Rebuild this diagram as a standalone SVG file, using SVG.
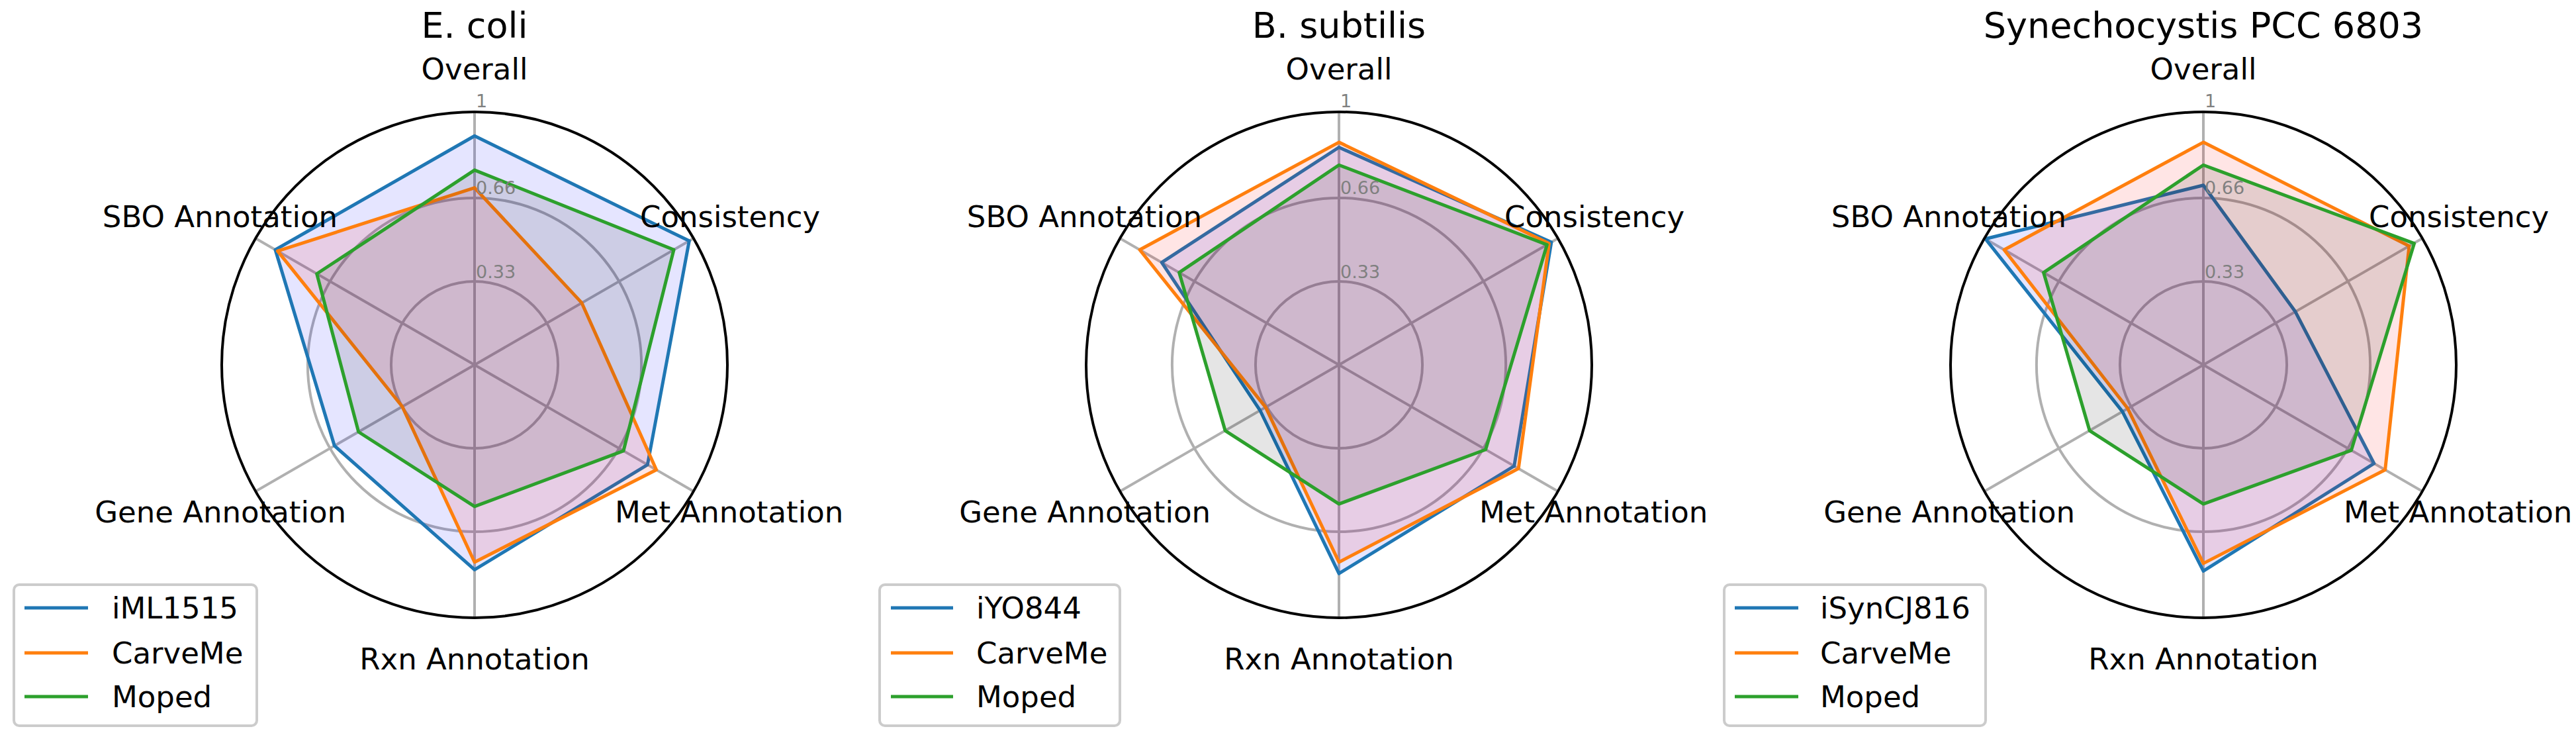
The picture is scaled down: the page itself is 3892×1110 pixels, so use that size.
<svg xmlns="http://www.w3.org/2000/svg" xmlns:xlink="http://www.w3.org/1999/xlink" width="3892" height="1110" viewBox="0 0 3892 1110">
<style>
text{font-family:"DejaVu Sans",sans-serif;fill:#000}
.t{font-size:54px;text-anchor:middle}
.l{font-size:45px}
.k{font-size:27px;fill:#808080}
.g{fill:none;stroke:#b0b0b0;stroke-width:4;vector-effect:non-scaling-stroke}
.o{fill:none;stroke:#000;stroke-width:4;vector-effect:non-scaling-stroke}
.b,.r,.m{stroke-width:5;stroke-linejoin:round;vector-effect:non-scaling-stroke}
.b{stroke:#1f77b4;fill:rgba(0,0,255,0.1)}
.r{stroke:#ff7f0e;fill:rgba(255,0,0,0.1)}
.m{stroke:#2ca02c;fill:rgba(0,0,0,0.1)}
.lg{fill:#fff;fill-opacity:0.8;stroke:#ccc;stroke-width:4}
</style>
<defs>
<g id="grid">
<path class="g" d="M0 0V-1M0 0L.866 -.5M0 0L.866 .5M0 0V1M0 0L-.866 .5M0 0L-.866 -.5"/>
<circle class="g" r="0.33"/>
<circle class="g" r="0.66"/>
</g>
</defs>
<g id="panel1">
<g transform="translate(717,551) scale(382)">
<use xlink:href="#grid"/>
<polygon class="b" points="0,-.905 .849,-.49 .684,.395 0,.81 -.554,.32 -.788,-.455"/>
<polygon class="r" points="0,-.70 .424,-.245 .719,.415 0,.78 -.286,.165 -.779,-.45"/>
<polygon class="m" points="0,-.77 .788,-.455 .589,.34 0,.56 -.459,.265 -.624,-.36"/>
<circle class="o" r="1"/>
</g>
<text class="t" x="717" y="57">E. coli</text>
<text class="l" x="717" y="120" text-anchor="middle">Overall</text>
<text class="l" x="967" y="343">Consistency</text>
<text class="l" x="929" y="789">Met Annotation</text>
<text class="l" x="717" y="1011" text-anchor="middle">Rxn Annotation</text>
<text class="l" x="523" y="789" text-anchor="end">Gene Annotation</text>
<text class="l" x="510" y="343" text-anchor="end">SBO Annotation</text>
<text class="k" x="719" y="162">1</text><text class="k" x="719" y="293">0.66</text><text class="k" x="719" y="420">0.33</text>
<rect class="lg" x="21" y="883" width="367" height="213" rx="8"/>
<path d="M37 918H133" stroke="#1f77b4" stroke-width="5"/><path d="M37 986H133" stroke="#ff7f0e" stroke-width="5"/><path d="M37 1052H133" stroke="#2ca02c" stroke-width="5"/>
<text class="l" x="169" y="934">iML1515</text><text class="l" x="169" y="1002">CarveMe</text><text class="l" x="169" y="1068">Moped</text>
</g>
<g id="panel2">
<g transform="translate(2023,551) scale(382)">
<use xlink:href="#grid"/>
<polygon class="b" points="0,-.86 .840,-.485 .693,.40 0,.825 -.312,.18 -.701,-.405"/>
<polygon class="r" points="0,-.88 .831,-.48 .710,.41 0,.78 -.290,.168 -.788,-.455"/>
<polygon class="m" points="0,-.79 .823,-.475 .580,.335 0,.55 -.450,.26 -.632,-.365"/>
<circle class="o" r="1"/>
</g>
<text class="t" x="2023" y="57">B. subtilis</text>
<text class="l" x="2023" y="120" text-anchor="middle">Overall</text>
<text class="l" x="2273" y="343">Consistency</text>
<text class="l" x="2235" y="789">Met Annotation</text>
<text class="l" x="2023" y="1011" text-anchor="middle">Rxn Annotation</text>
<text class="l" x="1829" y="789" text-anchor="end">Gene Annotation</text>
<text class="l" x="1816" y="343" text-anchor="end">SBO Annotation</text>
<text class="k" x="2025" y="162">1</text><text class="k" x="2025" y="293">0.66</text><text class="k" x="2025" y="420">0.33</text>
<rect class="lg" x="1329" y="883" width="363" height="213" rx="8"/>
<path d="M1346 918H1440" stroke="#1f77b4" stroke-width="5"/><path d="M1346 986H1440" stroke="#ff7f0e" stroke-width="5"/><path d="M1346 1052H1440" stroke="#2ca02c" stroke-width="5"/>
<text class="l" x="1475" y="934">iYO844</text><text class="l" x="1475" y="1002">CarveMe</text><text class="l" x="1475" y="1068">Moped</text>
</g>
<g id="panel3">
<g transform="translate(3329,551) scale(382)">
<use xlink:href="#grid"/>
<polygon class="b" points="0,-.71 .364,-.21 .675,.39 0,.815 -.320,.185 -.862,-.498"/>
<polygon class="r" points="0,-.88 .814,-.47 .719,.415 0,.785 -.299,.173 -.788,-.455"/>
<polygon class="m" points="0,-.79 .834,-.48 .585,.338 0,.55 -.450,.26 -.632,-.365"/>
<circle class="o" r="1"/>
</g>
<text class="t" x="3329" y="57">Synechocystis PCC 6803</text>
<text class="l" x="3329" y="120" text-anchor="middle">Overall</text>
<text class="l" x="3579" y="343">Consistency</text>
<text class="l" x="3541" y="789">Met Annotation</text>
<text class="l" x="3329" y="1011" text-anchor="middle">Rxn Annotation</text>
<text class="l" x="3135" y="789" text-anchor="end">Gene Annotation</text>
<text class="l" x="3122" y="343" text-anchor="end">SBO Annotation</text>
<text class="k" x="3331" y="162">1</text><text class="k" x="3331" y="293">0.66</text><text class="k" x="3331" y="420">0.33</text>
<rect class="lg" x="2605" y="883" width="395" height="213" rx="8"/>
<path d="M2621 918H2717" stroke="#1f77b4" stroke-width="5"/><path d="M2621 986H2717" stroke="#ff7f0e" stroke-width="5"/><path d="M2621 1052H2717" stroke="#2ca02c" stroke-width="5"/>
<text class="l" x="2750" y="934">iSynCJ816</text><text class="l" x="2750" y="1002">CarveMe</text><text class="l" x="2750" y="1068">Moped</text>
</g>
</svg>
